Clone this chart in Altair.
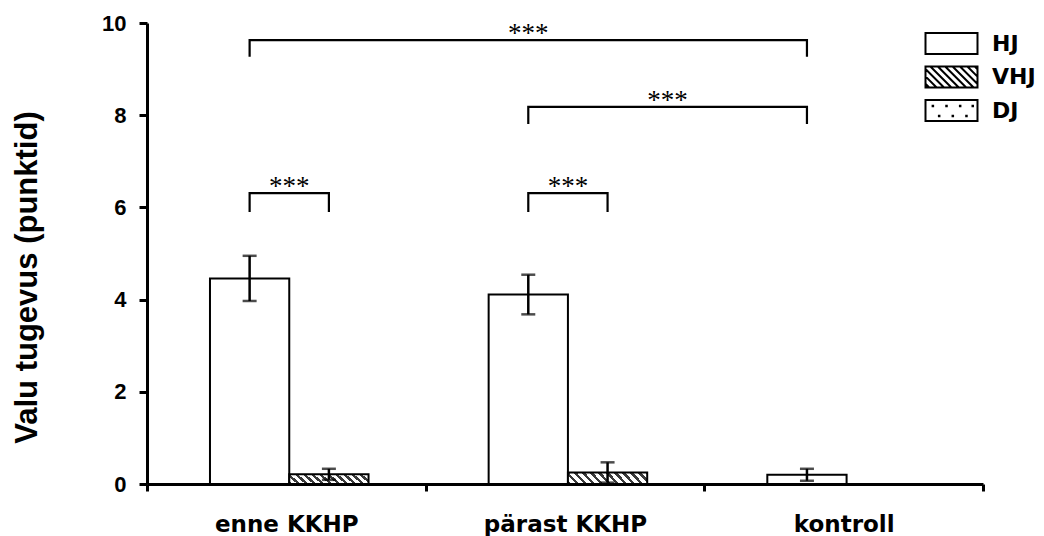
import altair as alt
import pandas as pd

# ---------------- data ----------------
categories = ["enne KKHP", "pärast KKHP", "kontroll"]
series_names = ["HJ", "VHJ", "DJ"]

bar_category = ["enne KKHP", "enne KKHP", "pärast KKHP", "pärast KKHP", "kontroll"]
bar_series = ["HJ", "VHJ", "HJ", "VHJ", "DJ"]
bar_slot = [0, 1, 0, 1, 0]
bar_mean = [4.46, 0.21, 4.11, 0.25, 0.20]
bar_err = [0.49, 0.12, 0.43, 0.22, 0.13]

# significance brackets: indexes of the two bars joined, bracket level, leg length
br_left = [0, 2, 0, 2]
br_right = [4, 4, 1, 3]
br_level = [9.63, 8.18, 6.31, 6.31]
br_drop = [0.36, 0.37, 0.41, 0.41]
br_text = ["***", "***", "***", "***"]

# ---------------- layout helpers ----------------
GROUP_START = 0.226   # where the first bar starts inside a category band
BAR_W = 0.2845        # bar width in category-band units

cat_idx = {c: i for i, c in enumerate(categories)}
rows = []
for c, s, k, m, e in zip(bar_category, bar_series, bar_slot, bar_mean, bar_err):
    x0 = cat_idx[c] + GROUP_START + k * BAR_W
    rows.append(dict(category=c, series=s, x0=x0, x1=x0 + BAR_W,
                     xc=x0 + BAR_W / 2, mean=m, lo=m - e, hi=m + e))
bars = pd.DataFrame(rows)

br_rows, star_rows = [], []
for b, (l, r, lev, d, t) in enumerate(zip(br_left, br_right, br_level, br_drop, br_text)):
    xl, xr = bars.xc[l], bars.xc[r]
    for k, (xx, yy) in enumerate([(xl, lev - d), (xl, lev), (xr, lev), (xr, lev - d)]):
        br_rows.append(dict(bid=b, k=k, x=xx, y=yy))
    star_rows.append(dict(x=(xl + xr) / 2, y=lev, text=t))
brackets = pd.DataFrame(br_rows)
stars = pd.DataFrame(star_rows)

# ---------------- legend symbol paths ----------------
S = 10.5
W = 26 / S
H = 1.0
rect = f"M{-W:.3f},{-H:.3f}H{W:.3f}V{H:.3f}H{-W:.3f}Z"
step = 7.4 / S
segs = []
c = -W - H + step / 2
while c < W + H:
    y0 = max(-H, -W - c)
    y1 = min(H, W - c)
    if y1 > y0:
        segs.append(f"M{c + y0:.3f},{y0:.3f}L{c + y1:.3f},{y1:.3f}")
    c += step
hatch_path = rect + "".join(segs)
dots = []
for yy, xs_ in [(-0.45, [-1.8, -0.5, 0.8, 2.0]), (0.5, [-1.2, 0.1, 1.4])]:
    for xx in xs_:
        dots.append(f"M{xx:.2f},{yy:.2f}h0.05v0.05h-0.05Z")
dot_path = rect + "".join(dots)

# ---------------- hatch gradient for the VHJ bars ----------------
bw, bh = 79.0, 11.0
period, dark = 8.0, 0.45
span = bw + bh
stops = []
t = 0.0
while t < 1.0:
    a = t
    b = min(1.0, t + dark * period / span)
    stops += [dict(offset=a, color="#ffffff"), dict(offset=a, color="#3a3a3a"),
              dict(offset=b, color="#3a3a3a"), dict(offset=b, color="#ffffff")]
    t += period / span
grad = dict(gradient="linear", stops=stops, x1=0, y1=1,
            x2=span * bw / (bw * bw + bh * bh), y2=1 - span * bh / (bw * bw + bh * bh))

# ---------------- scales & axes ----------------
xs = alt.Scale(domain=[0, 3], nice=False, zero=False)
ys = alt.Scale(domain=[0, 10], nice=False, zero=True)

label_expr = ""
for i, c in enumerate(categories):
    label_expr += f"datum.value === {i + 0.5} ? '{c}' : "
label_expr += "''"

xaxis = alt.Axis(values=[0, 0.5, 1, 1.5, 2, 2.5, 3], labelExpr=label_expr, title=None,
                 tickOpacity={"condition": {"test": "datum.value % 1 === 0", "value": 1}, "value": 0},
                 tickSize=7, tickWidth=3, tickColor="black", domainWidth=3, domainColor="black",
                 labelFont="DejaVu Sans", labelFontSize=23, labelFontWeight="bold", labelColor="black",
                 labelPadding=22, labelFlush=False, labelOverlap=False, grid=False)
yaxis = alt.Axis(values=[0, 2, 4, 6, 8, 10], title="Valu tugevus (punktid)",
                 titleFont="Liberation Sans", titleFontSize=31, titleFontWeight="bold", titleColor="black",
                 titleX=-120, titleY=254, titleAngle=270, titleBaseline="middle", titleAlign="center",
                 tickSize=8, tickWidth=3, tickColor="black", domainWidth=3, domainColor="black",
                 labelFont="Liberation Sans", labelFontSize=22, labelFontWeight="bold", labelColor="black",
                 labelPadding=13, grid=False)


def X(f):
    return alt.X(f, type="quantitative", scale=xs, axis=xaxis)


def Y(f):
    return alt.Y(f, type="quantitative", scale=ys, axis=yaxis)


base = alt.Chart(bars)

plain = base.transform_filter("datum.series !== 'VHJ'").mark_bar(
    fill="white", stroke="black", strokeWidth=2).encode(
    x=X("x0"), x2="x1", y=Y("mean"), y2=alt.datum(0))

hatched = base.transform_filter("datum.series === 'VHJ'").mark_bar(
    fill=grad, stroke="black", strokeWidth=2).encode(
    x=X("x0"), x2="x1", y=Y("mean"), y2=alt.datum(0))

err = base.mark_rule(color="black", strokeWidth=2.5).encode(x=X("xc"), y=Y("lo"), y2="hi")
cap_lo = base.mark_tick(color="black", orient="horizontal", size=14, thickness=2.5).encode(x=X("xc"), y=Y("lo"))
cap_hi = base.mark_tick(color="black", orient="horizontal", size=14, thickness=2.5).encode(x=X("xc"), y=Y("hi"))

br = alt.Chart(brackets).mark_line(color="black", strokeWidth=2.2, strokeJoin="miter").encode(
    x=X("x"), y=Y("y"), detail="bid:N", order="k:Q")

st = alt.Chart(stars).mark_text(font="Liberation Serif", fontSize=27, baseline="alphabetic",
                                align="center", dy=2, color="black").encode(
    x=X("x"), y=Y("y"), text="text:N")

leg = alt.Legend(title=None, orient="none", legendX=793, legendY=9, padding=0,
                 symbolSize=S * S * 4, symbolStrokeColor="black", symbolStrokeWidth=2,
                 symbolOpacity=1, symbolFillColor="white",
                 labelFont="DejaVu Sans", labelFontSize=22, labelFontWeight="bold", labelColor="black",
                 labelOffset=29, rowPadding=4.5)

legend_pts = base.mark_point(filled=True, opacity=0, stroke="black", strokeWidth=2).encode(
    x=X("xc"), y=Y("mean"),
    fill=alt.Fill("series:N", scale=alt.Scale(domain=series_names, range=["white", "white", "white"]), legend=leg),
    shape=alt.Shape("series:N", scale=alt.Scale(domain=series_names, range=[rect, hatch_path, dot_path]), legend=leg))

chart = alt.layer(plain, hatched, err, cap_lo, cap_hi, br, st, legend_pts).properties(
    width=836, height=461,
    padding={"left": 147, "top": 23, "right": 61, "bottom": 52},
    autosize=alt.AutoSizeParams(type="none"),
    background="white",
).configure_view(strokeWidth=0)

chart.save("out.html", embed_options={"renderer": "svg", "actions": False})
